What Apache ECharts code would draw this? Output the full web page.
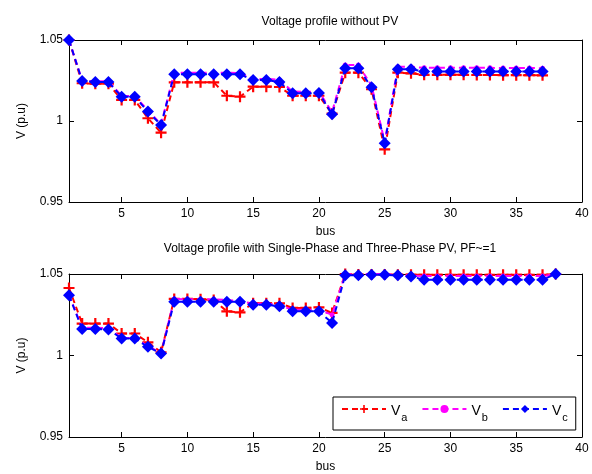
<!DOCTYPE html>
<html><head><meta charset="utf-8">
<script src="https://cdn.jsdelivr.net/npm/echarts@6/dist/echarts.min.js"></script>
<style>html,body{margin:0;padding:0;background:#fff}#c{width:592px;height:474px}</style>
</head><body><div id="c"></div>
<script>
const busTop = Array.from({length:37},(_, i)=>i+1);
const busBot = Array.from({length:38},(_, i)=>i+1);
const xTicks = [5,10,15,20,25,30,35,40];
const yTicks = [0.95,1,1.05];
const titleTop = 'Voltage profile without PV';
const titleBot = 'Voltage profile with Single-Phase and Three-Phase PV, PF~=1';
const seriesNames = ['Va','Vb','Vc'];

const vaTop = [1.05,1.0233,1.023,1.023,1.013,1.013,1.0017,0.9928,1.0239,1.0239,1.0239,1.0239,1.0156,1.015,1.0212,1.0212,1.021,1.0156,1.0156,1.0156,1.0045,1.0298,1.0298,1.0196,0.9825,1.0298,1.0294,1.0285,1.0285,1.0285,1.0285,1.0284,1.0284,1.0283,1.0283,1.0283,1.0282];
const vbTop = [1.05,1.025,1.0245,1.0245,1.0155,1.0155,1.0065,0.998,1.0298,1.0298,1.0298,1.0298,1.0298,1.0295,1.026,1.026,1.0255,1.0182,1.018,1.018,1.0055,1.0345,1.0345,1.022,0.987,1.0335,1.0335,1.0328,1.0328,1.0328,1.0328,1.0328,1.0328,1.0327,1.0327,1.0327,1.0326];
const vcTop = [1.05,1.0247,1.024,1.024,1.015,1.015,1.0058,0.9975,1.0288,1.0288,1.0288,1.0288,1.0288,1.0288,1.0253,1.0253,1.024,1.0171,1.0171,1.0173,1.0041,1.0325,1.0325,1.0208,0.9862,1.0319,1.0319,1.0305,1.0305,1.0305,1.0305,1.0306,1.0305,1.0305,1.0305,1.0305,1.0305];

const vaBot = [1.0414,1.0196,1.0196,1.0196,1.0135,1.0135,1.0081,1.002,1.0347,1.0347,1.0345,1.034,1.0271,1.0265,1.032,1.032,1.032,1.0292,1.0292,1.0295,1.0261,1.05,1.0497,1.0497,1.0497,1.0496,1.0496,1.0495,1.0495,1.0495,1.0495,1.0495,1.0495,1.0495,1.0495,1.0495,1.0495,1.05];
const vbBot = [1.037,1.017,1.017,1.0168,1.0108,1.0108,1.0058,1.0015,1.0347,1.0345,1.0345,1.0345,1.034,1.0335,1.0318,1.0318,1.031,1.028,1.028,1.028,1.025,1.0498,1.0498,1.05,1.05,1.0495,1.049,1.0487,1.0487,1.0487,1.0487,1.0487,1.0487,1.0487,1.0487,1.0487,1.0487,1.05];
const vcBot = [1.0369,1.0163,1.0163,1.016,1.0104,1.0104,1.0053,1.0012,1.0329,1.0329,1.0329,1.0329,1.0329,1.0329,1.0312,1.0312,1.0302,1.0271,1.0271,1.0271,1.02,1.0492,1.0492,1.0495,1.0495,1.0492,1.0485,1.0465,1.0465,1.0465,1.0465,1.0465,1.0465,1.0465,1.0465,1.0465,1.0465,1.05];

const FONT = 'Liberation Sans, Arial, sans-serif';
const plus = 'path://M4,0H6V4H10V6H6V10H4V6H0V4H4Z';
const styles = [
  {color:'#ff0000', symbol: plus, symbolSize: 11},
  {color:'#ff00ff', symbol: 'circle', symbolSize: 5},
  {color:'#0000ff', symbol: 'diamond', symbolSize: 12}
];

function pairs(xs, ys){ return xs.map((x,i)=>[x, ys[i]]); }

const grids = [
  {left:69, top:40, width:513, height:162},
  {left:69, top:274, width:513, height:163}
];
const xAxes = [], yAxes = [];
grids.forEach((g, gi) => {
  const tick = {show:true, inside:true, length:5, lineStyle:{color:'#000'}, customValues: xTicks};
  xAxes.push({type:'value', gridIndex:gi, position:'bottom', min:1, max:40,
    axisLine:{show:true, onZero:false, lineStyle:{color:'#000', width:1}},
    axisTick: tick,
    axisLabel:{show:true, color:'#000', fontFamily:FONT, fontSize:12, margin:6, customValues: xTicks},
    splitLine:{show:false},
    name:'bus', nameLocation:'middle', nameGap:24, nameTextStyle:{color:'#000', fontFamily:FONT, fontSize:12}});
  xAxes.push({type:'value', gridIndex:gi, position:'top', min:1, max:40,
    axisLine:{show:true, onZero:false, lineStyle:{color:'#000', width:1}},
    axisTick: tick, axisLabel:{show:false}, splitLine:{show:false}});
  const ytick = {show:true, inside:true, length:5, lineStyle:{color:'#000'}, customValues: yTicks};
  yAxes.push({type:'value', gridIndex:gi, position:'left', min:0.95, max:1.05,
    axisLine:{show:true, onZero:false, lineStyle:{color:'#000', width:1}},
    axisTick: ytick,
    axisLabel:{show:true, color:'#000', fontFamily:FONT, fontSize:12, margin:6, customValues: yTicks},
    splitLine:{show:false},
    name:'V (p.u)', nameLocation:'middle', nameGap:41, nameRotate:90, nameTextStyle:{color:'#000', fontFamily:FONT, fontSize:12}});
  yAxes.push({type:'value', gridIndex:gi, position:'right', min:0.95, max:1.05,
    axisLine:{show:true, onZero:false, lineStyle:{color:'#000', width:1}},
    axisTick: ytick, axisLabel:{show:false}, splitLine:{show:false}});
});

const data = [[vaTop, vbTop, vcTop],[vaBot, vbBot, vcBot]];
const xs = [busTop, busBot];
const series = [];
data.forEach((set, gi) => {
  set.forEach((ys, si) => {
    const st = styles[si];
    series.push({type:'line', name: seriesNames[si], xAxisIndex: gi*2, yAxisIndex: gi*2,
      data: pairs(xs[gi], ys), symbol: st.symbol, symbolSize: st.symbolSize, showAllSymbol:true,
      lineStyle:{color: st.color, width:2, type:[6,4]},
      itemStyle:{color: st.color, borderWidth:0},
      animation:false, z: 2+si});
  });
});

const chart = echarts.init(document.getElementById('c'), null, {renderer:'canvas'});
chart.setOption({
  backgroundColor:'#fff',
  animation:false,
  title:[
    {text:titleTop, top:11, textStyle:{fontFamily:FONT, fontSize:12, fontWeight:'normal', color:'#000'}, left: 325, textAlign:'center'},
    {text:titleBot, top:238, textStyle:{fontFamily:FONT, fontSize:12, fontWeight:'normal', color:'#000'}, left: 325, textAlign:'center'}
  ],
  grid: grids,
  xAxis: xAxes,
  yAxis: yAxes,
  legend:{
    data: seriesNames, left:333, top:397, orient:'horizontal',
    backgroundColor:'#fff', borderColor:'#000', borderWidth:1, borderRadius:0,
    padding:[7,8,7,8], itemGap:14, itemWidth:44, itemHeight:10,
    formatter: n => '{m|V}{s|' + n.slice(1) + '}',
    textStyle:{fontFamily:FONT, color:'#000', rich:{
      m:{fontSize:14, fontFamily:FONT, color:'#000', lineHeight:18, verticalAlign:'bottom'},
      s:{fontSize:11, fontFamily:FONT, color:'#000', lineHeight:18, verticalAlign:'bottom', padding:[0,0,-5,1]}
    }}
  },
  series: series
});
</script></body></html>
